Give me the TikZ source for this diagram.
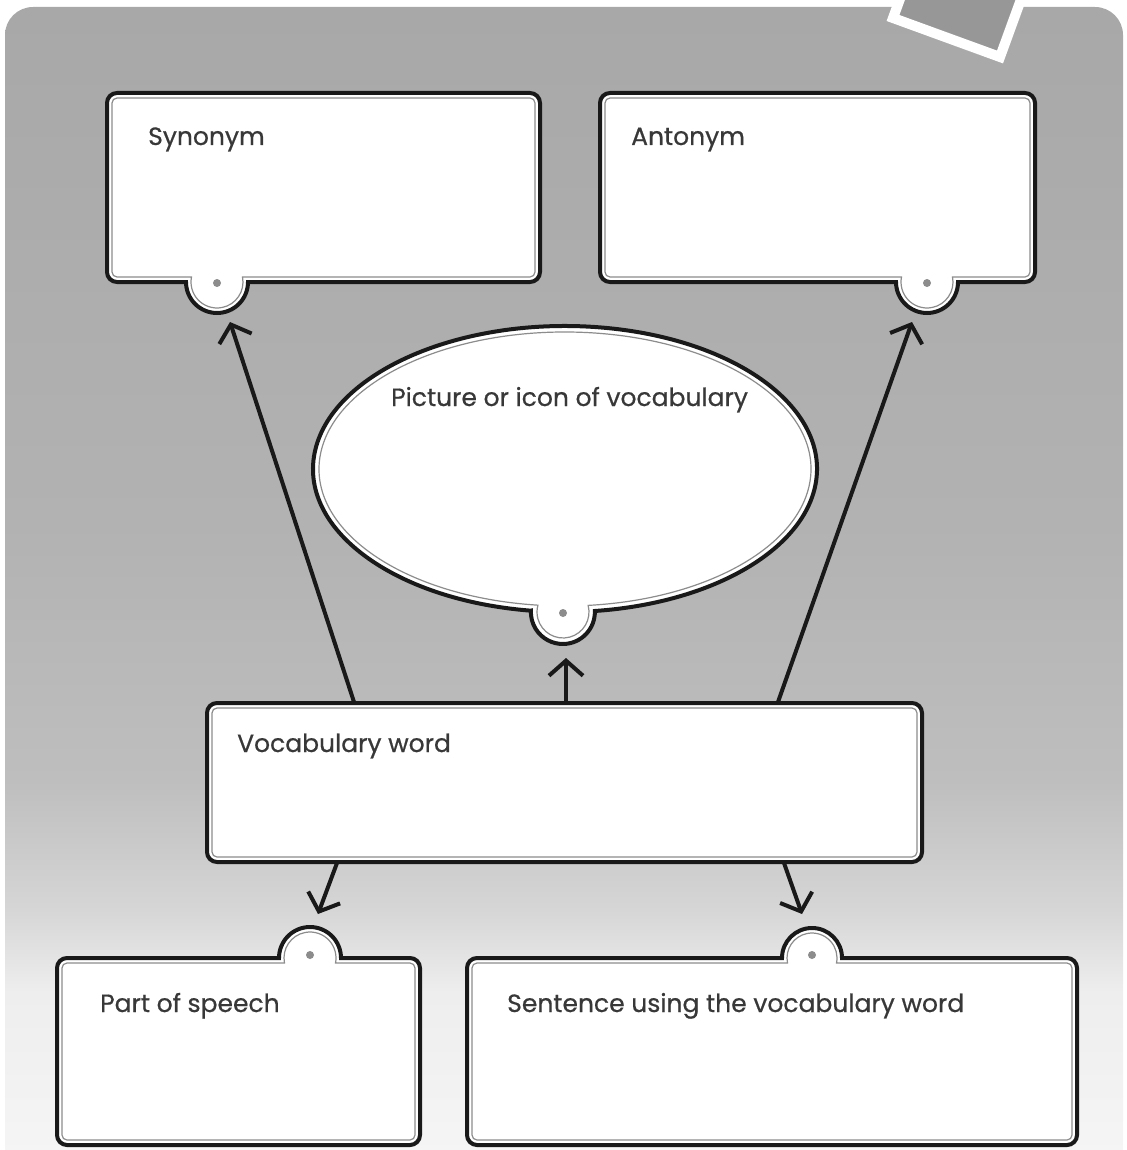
\documentclass[tikz,border=0pt]{standalone}
\usepackage{fontspec}
\setmainfont{Poppins}[FakeBold=0.6]
\usetikzlibrary{arrows.meta}
\definecolor{bgTop}{HTML}{A8A8A8}
\definecolor{bgA}{HTML}{B2B2B2}
\definecolor{bgB}{HTML}{BEBEBE}
\definecolor{bgC}{HTML}{D6D6D6}
\definecolor{bgD}{HTML}{EEEEEE}
\definecolor{bgE}{HTML}{F6F6F6}
\definecolor{sqgray}{HTML}{979797}
\definecolor{txtgray}{HTML}{383838}
\definecolor{innergray}{HTML}{8C8C8C}
\pgfdeclareverticalshading{bgshade}{100bp}{color(0bp)=(bgE); color(25bp)=(bgE); color(33bp)=(bgD); color(36.5bp)=(bgC); color(42bp)=(bgB); color(53bp)=(bgA); color(75bp)=(bgTop); color(100bp)=(bgTop)}
% bottom-tab outline: #1 style, #2 x1, #3 y1, #4 x2, #5 y2, #6 tx, #7 ty, #8 r, #9 corner
\newcommand\bottomtabpath[9]{%
  \pgfmathsetmacro\tbA{asin((#7-#5)/#8)}%
  \pgfmathsetmacro\tbX{#8*cos(\tbA)}%
  \path[#1] (#2+#9,#3) -- (#4-#9,#3) arc[start angle=270,end angle=360,radius=#9]
    -- (#4,#5-#9) arc[start angle=0,end angle=90,radius=#9]
    -- (#6+\tbX,#5) arc[start angle=-\tbA,end angle=180+\tbA,radius=#8]
    -- (#2+#9,#5) arc[start angle=90,end angle=180,radius=#9]
    -- (#2,#3+#9) arc[start angle=180,end angle=270,radius=#9] -- cycle;}
% top-tab outline
\newcommand\toptabpath[9]{%
  \pgfmathsetmacro\tbA{asin((#3-#7)/#8)}%
  \pgfmathsetmacro\tbX{#8*cos(\tbA)}%
  \path[#1] (#2+#9,#3) -- (#6-\tbX,#3) arc[start angle=180-\tbA,end angle=360+\tbA,radius=#8]
    -- (#4-#9,#3) arc[start angle=270,end angle=360,radius=#9]
    -- (#4,#5-#9) arc[start angle=0,end angle=90,radius=#9]
    -- (#2+#9,#5) arc[start angle=90,end angle=180,radius=#9]
    -- (#2,#3+#9) arc[start angle=180,end angle=270,radius=#9] -- cycle;}
\begin{document}
\begin{tikzpicture}[x=1pt,y=-1pt,
  outerline/.style={fill=white,draw=black!90,line width=4pt},
  innerline/.style={draw=innergray,line width=1.2pt},
  tabdot/.style={fill=innergray},
  label/.style={anchor=base west,inner sep=0pt,text=txtgray,font=\fontsize{25}{29}\selectfont},
  conn/.style={draw=black!90,line width=4pt,-{Straight Barb[length=15pt,width=34pt]}}]
\useasboundingbox (0,0) rectangle (1126,1150);
% background
\shade[shading=bgshade,rounded corners=28] (5,7) rectangle (1123,1180);
\filldraw[fill=sqgray,draw=white,line width=10pt] (893,18) -- (1000,57) -- (1039,-50) -- (932,-89) -- cycle;

% Synonym box
\bottomtabpath{outerline}{107}{93}{540}{282}{217}{282}{31}{10}
\bottomtabpath{innerline}{112}{98}{535}{277}{217}{282}{26}{5}
\fill[tabdot] (217,283) circle[radius=4];
\node[label] (syn) at (148,145) {Synonym};

% Antonym box
\bottomtabpath{outerline}{600}{93}{1035}{282}{927}{282}{31}{10}
\bottomtabpath{innerline}{605}{98}{1030}{277}{927}{282}{26}{5}
\fill[tabdot] (927,283) circle[radius=4];
\node[label] (ant) at (631,145) {Antonym};

% Ellipse
\path[outerline] ({565+252*cos(97.8)},{469+143*sin(97.8)}) arc[start angle=97.8,end angle=443.2,x radius=252,y radius=143] arc[start angle=-1.8,end angle=182.4,radius=32] -- cycle;
\path[innerline] ({565+246*cos(96.35)},{469+137*sin(96.35)}) arc[start angle=96.35,end angle=444.6,x radius=246,y radius=137] arc[start angle=-14.7,end angle=195.2,radius=26] -- cycle;
\fill[tabdot] (563,613) circle[radius=4];
\node[label] (pic) at (391,406) {Picture or icon of vocabulary};

% Vocabulary word box
\path[outerline,rounded corners=10] (207,703) rectangle (922,862);
\path[innerline,rounded corners=5] (212,708) rectangle (917,857);
\node[label] (voc) at (237,752) {Vocabulary word};

% Part of speech box
\toptabpath{outerline}{57}{958}{420}{1145}{310}{958}{31}{10}
\toptabpath{innerline}{62}{963}{415}{1140}{310}{958}{26}{5}
\fill[tabdot] (310,955) circle[radius=4];
\node[label] (pos) at (100,1012) {Part of speech};

% Sentence box
\toptabpath{outerline}{467}{958}{1077}{1145}{812}{958}{30}{10}
\toptabpath{innerline}{472}{963}{1072}{1140}{812}{958}{25}{5}
\fill[tabdot] (812,955) circle[radius=4];
\node[label] (sen) at (507,1012) {Sentence using the vocabulary word};

% connector end points
\coordinate (v-syn) at (354,702);
\coordinate (v-pic) at (566,702);
\coordinate (v-ant) at (778,702);
\coordinate (v-pos) at (337,863);
\coordinate (v-sen) at (784,863);
\coordinate (syn-tab) at (230,322);
\coordinate (ant-tab) at (912,322);
\coordinate (pic-tab) at (566,658);
\coordinate (pos-tab) at (318,914);
\coordinate (sen-tab) at (802,914);

\draw[conn] (v-syn) -- (syn-tab);
\draw[conn] (v-ant) -- (ant-tab);
\draw[conn] (v-pic) -- (pic-tab);
\draw[conn] (v-pos) -- (pos-tab);
\draw[conn] (v-sen) -- (sen-tab);
\end{tikzpicture}
\end{document}
